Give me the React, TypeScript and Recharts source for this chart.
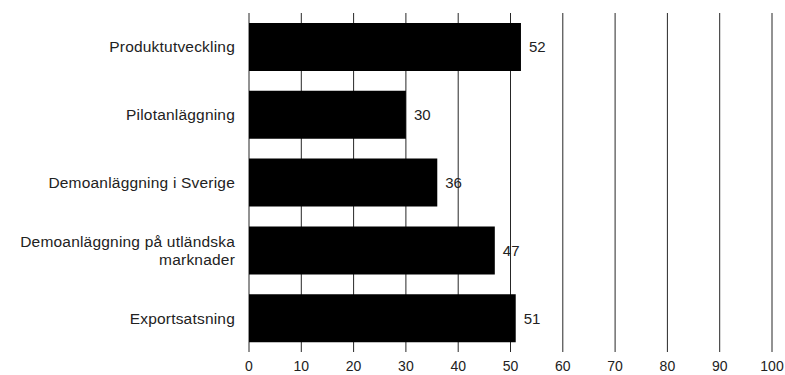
import React from "react";
import {
  Bar,
  BarChart,
  CartesianGrid,
  LabelList,
  Text,
  XAxis,
  YAxis,
} from "recharts";

const categories = [
  "Produktutveckling",
  "Pilotanläggning",
  "Demoanläggning i Sverige",
  "Demoanläggning på utländska marknader",
  "Exportsatsning",
];
const values = [52, 30, 36, 47, 51];
const xTicks = [0, 10, 20, 30, 40, 50, 60, 70, 80, 90, 100];

const data = categories.map((name, i) => ({ name, value: values[i] }));

const FONT = "'Liberation Sans', Arial, Helvetica, sans-serif";

// category labels, wrapped when too long
const CategoryTick = ({ x, y, payload }: any) => (
  <Text
    x={x}
    y={y}
    width={225}
    textAnchor="end"
    verticalAnchor="middle"
    lineHeight="1.15em"
    fontSize={15.5}
    letterSpacing={0.2}
    fontFamily={FONT}
    fill="#222"
  >
    {payload.value}
  </Text>
);

export default function App() {
  return (
    <div style={{ position: "absolute", left: 0, top: 0 }}>
      <BarChart
        width={785}
        height={375}
        data={data}
        layout="vertical"
        margin={{ top: 13, right: 13, bottom: 0, left: 0 }}
      >
        <CartesianGrid horizontal={false} stroke="#000" strokeOpacity={0.85} />
        <XAxis
          type="number"
          domain={[0, 100]}
          ticks={xTicks}
          interval={0}
          axisLine={false}
          tickLine={false}
          tickSize={0}
          tickMargin={9}
          height={23}
          tick={{ fontSize: 14, fill: "#222", fontFamily: FONT }}
        />
        <YAxis
          type="category"
          dataKey="name"
          width={249}
          axisLine={false}
          tickLine={false}
          tickSize={0}
          tickMargin={14}
          tick={<CategoryTick />}
        />
        <Bar dataKey="value" fill="#000" barSize={48} isAnimationActive={false}>
          <LabelList
            dataKey="value"
            position="right"
            offset={8}
            fill="#222"
            fontSize={15}
            fontFamily={FONT}
          />
        </Bar>
      </BarChart>
    </div>
  );
}
